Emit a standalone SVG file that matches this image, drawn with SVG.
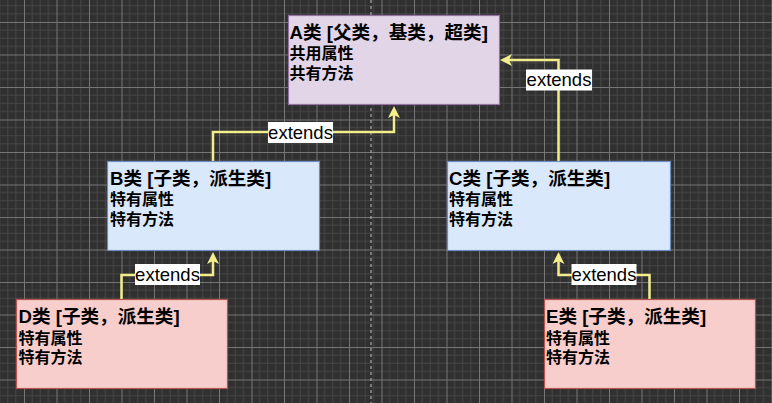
<svg xmlns="http://www.w3.org/2000/svg" width="772" height="403" viewBox="0 0 772 403">
  <style>
    .box { stroke-width: 1.2; }
    .t1 { font-family: "Liberation Sans", "Noto Sans CJK SC", sans-serif; font-size: 18.6px; font-weight: bold; fill: #000; }
    .t2 { font-family: "Liberation Sans", "Noto Sans CJK SC", sans-serif; font-size: 16px; font-weight: bold; fill: #000; }
    .edge { fill: none; stroke: #f2ee8c; stroke-width: 2.5; marker-end: url(#arr); }
    .lblbg { fill: #ffffff; }
    .lbl { font-family: "Liberation Sans", "Noto Sans CJK SC", sans-serif; font-size: 18.5px; fill: #000; text-anchor: middle; }
  </style>
  <defs>
    <pattern id="grid" patternUnits="userSpaceOnUse" x="24" y="22" width="32.5" height="32.5">
      <rect width="32.5" height="32.5" fill="#303030"/>
      <path d="M8.125,0 V32.5 M16.25,0 V32.5 M24.375,0 V32.5 M0,8.125 H32.5 M0,16.25 H32.5 M0,24.375 H32.5" stroke="#464646" stroke-width="1" fill="none"/>
      <path d="M0.5,0 V32.5 M0,0.5 H32.5" stroke="#767676" stroke-width="1" fill="none"/>
    </pattern>
    <marker id="arr" markerUnits="userSpaceOnUse" markerWidth="12" markerHeight="12" refX="4" refY="6" orient="auto">
      <path d="M0,0 L12,6 L0,12 L3,6 Z" fill="#f2ee8c"/>
    </marker>
  </defs>
  <rect width="772" height="403" fill="url(#grid)"/>
  <line x1="371" y1="0" x2="371" y2="403" stroke="#a8a8a8" stroke-width="1.2" stroke-dasharray="3,3"/>

  <g id="connectors">
    <path class="edge" d="M213,161 V132 H394 V114"/>
    <path class="edge" d="M558.5,161 V60 H508"/>
    <path class="edge" d="M121.5,299 V275 H213 V260"/>
    <path class="edge" d="M649.5,299 V275 H558.5 V260"/>
    <rect class="lblbg" x="268" y="122" width="65" height="21"/>
    <text class="lbl" x="300.5" y="138.5">extends</text>
    <rect class="lblbg" x="526" y="69.5" width="66" height="21"/>
    <text class="lbl" x="559" y="86">extends</text>
    <rect class="lblbg" x="135" y="264" width="65" height="21"/>
    <text class="lbl" x="167.5" y="280.5">extends</text>
    <rect class="lblbg" x="571.5" y="264" width="65" height="21"/>
    <text class="lbl" x="604" y="280.5">extends</text>
  </g>

  <g id="nodeA">
    <rect class="box" x="288.5" y="15.5" width="211" height="89" fill="#e1d5e7" stroke="#9673a6"/>
    <text class="t1" x="289.5" y="39">A类 [父类，基类，超类]</text>
    <text class="t2" x="289.5" y="59">共用属性</text>
    <text class="t2" x="289.5" y="78.5">共有方法</text>
  </g>
  <g id="nodeB">
    <rect class="box" x="107.5" y="161.5" width="212" height="89" fill="#dae8fc" stroke="#6c8ebf"/>
    <text class="t1" x="110" y="185">B类 [子类，派生类]</text>
    <text class="t2" x="110" y="205">特有属性</text>
    <text class="t2" x="110" y="225">特有方法</text>
  </g>
  <g id="nodeC">
    <rect class="box" x="447.5" y="161.5" width="223" height="89" fill="#dae8fc" stroke="#6c8ebf"/>
    <text class="t1" x="449" y="185">C类 [子类，派生类]</text>
    <text class="t2" x="449" y="205">特有属性</text>
    <text class="t2" x="449" y="225">特有方法</text>
  </g>
  <g id="nodeD">
    <rect class="box" x="16.5" y="299.5" width="211" height="89" fill="#f8cecc" stroke="#b85450"/>
    <text class="t1" x="18.5" y="323">D类 [子类，派生类]</text>
    <text class="t2" x="18.5" y="343.5">特有属性</text>
    <text class="t2" x="18.5" y="363">特有方法</text>
  </g>
  <g id="nodeE">
    <rect class="box" x="544.5" y="299.5" width="211" height="89" fill="#f8cecc" stroke="#b85450"/>
    <text class="t1" x="546" y="323">E类 [子类，派生类]</text>
    <text class="t2" x="546" y="343.5">特有属性</text>
    <text class="t2" x="546" y="363">特有方法</text>
  </g>
</svg>
